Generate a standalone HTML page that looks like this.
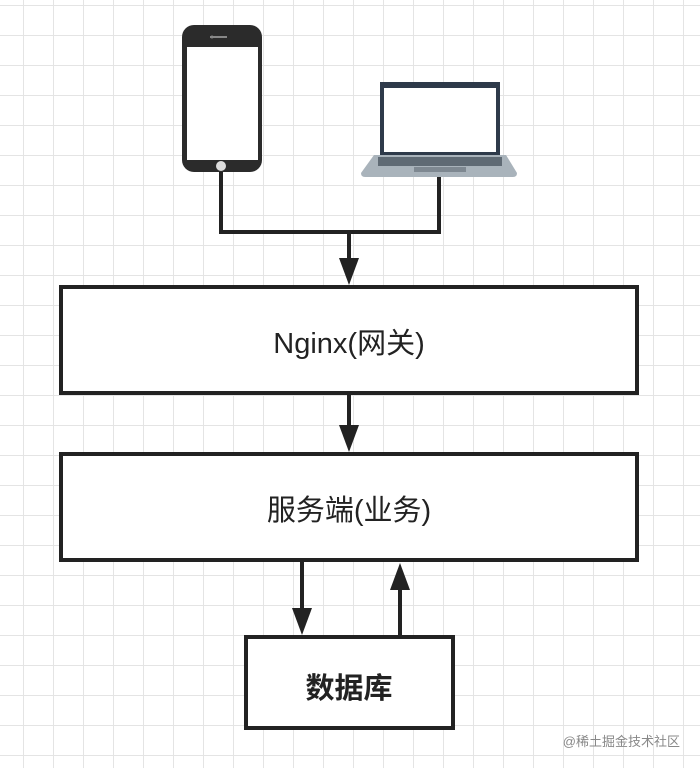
<!DOCTYPE html>
<html><head><meta charset="utf-8"><style>
html,body{margin:0;padding:0;background:#fff;}
body{width:700px;height:768px;overflow:hidden;position:relative;
background-image:
linear-gradient(to right,#e4e4e4 1px,transparent 1px),
linear-gradient(to bottom,#e4e4e4 1px,transparent 1px);
background-size:30px 30px;background-position:23px 5px;}
svg{position:absolute;left:0;top:0;}
text{font-family:"Liberation Sans","Noto Sans CJK SC",sans-serif;}
</style></head><body>
<svg width="700" height="768" viewBox="0 0 700 768">
<!-- phone -->
<rect x="182" y="25" width="80" height="147" rx="12" fill="#2b2b2b"/>
<rect x="187" y="47" width="71" height="113" fill="#fff"/>
<circle cx="221" cy="166" r="5" fill="#ddd"/>
<rect x="210" y="36" width="17" height="2" fill="#888"/>
<circle cx="212" cy="37" r="1.5" fill="#888"/>
<!-- laptop -->
<rect x="380" y="82" width="120" height="75" fill="#2e3a4a"/>
<rect x="384" y="88" width="112" height="64" fill="#fff"/>
<path d="M374 155 L506 155 L517 173 Q517 177 513 177 L365 177 Q361 177 361 173 Z" fill="#a9b3bb"/>
<rect x="378" y="157" width="124" height="9" fill="#5f6a74"/>
<rect x="414" y="167" width="52" height="5" fill="#7e8891"/>
<!-- connectors -->
<g stroke="#222" stroke-width="4" fill="none">
<polyline points="221,172 221,232 439,232 439,177"/>
<line x1="349" y1="232" x2="349" y2="262"/>
<line x1="349" y1="393" x2="349" y2="430"/>
<line x1="302" y1="560" x2="302" y2="612"/>
<line x1="400" y1="637" x2="400" y2="585"/>
</g>
<g fill="#222">
<polygon points="339,258 359,258 349,285"/>
<polygon points="339,425 359,425 349,452"/>
<polygon points="292,608 312,608 302,635"/>
<polygon points="390,590 410,590 400,563"/>
</g>
<!-- boxes -->
<rect x="61" y="287" width="576" height="106" fill="#fff" stroke="#222" stroke-width="4"/>
<rect x="61" y="454" width="576" height="106" fill="#fff" stroke="#222" stroke-width="4"/>
<rect x="246" y="637" width="207" height="91" fill="#fff" stroke="#222" stroke-width="4"/>
<text x="349" y="353" font-size="29" text-anchor="middle" fill="#222">Nginx(网关)</text>
<text x="349" y="520" font-size="29" text-anchor="middle" fill="#222">服务端(业务)</text>
<text x="349" y="698" font-size="29" text-anchor="middle" fill="#222" font-weight="bold">数据库</text>
<text x="680" y="746" font-size="13" text-anchor="end" fill="#888">@稀土掘金技术社区</text>
</svg>
</body></html>
